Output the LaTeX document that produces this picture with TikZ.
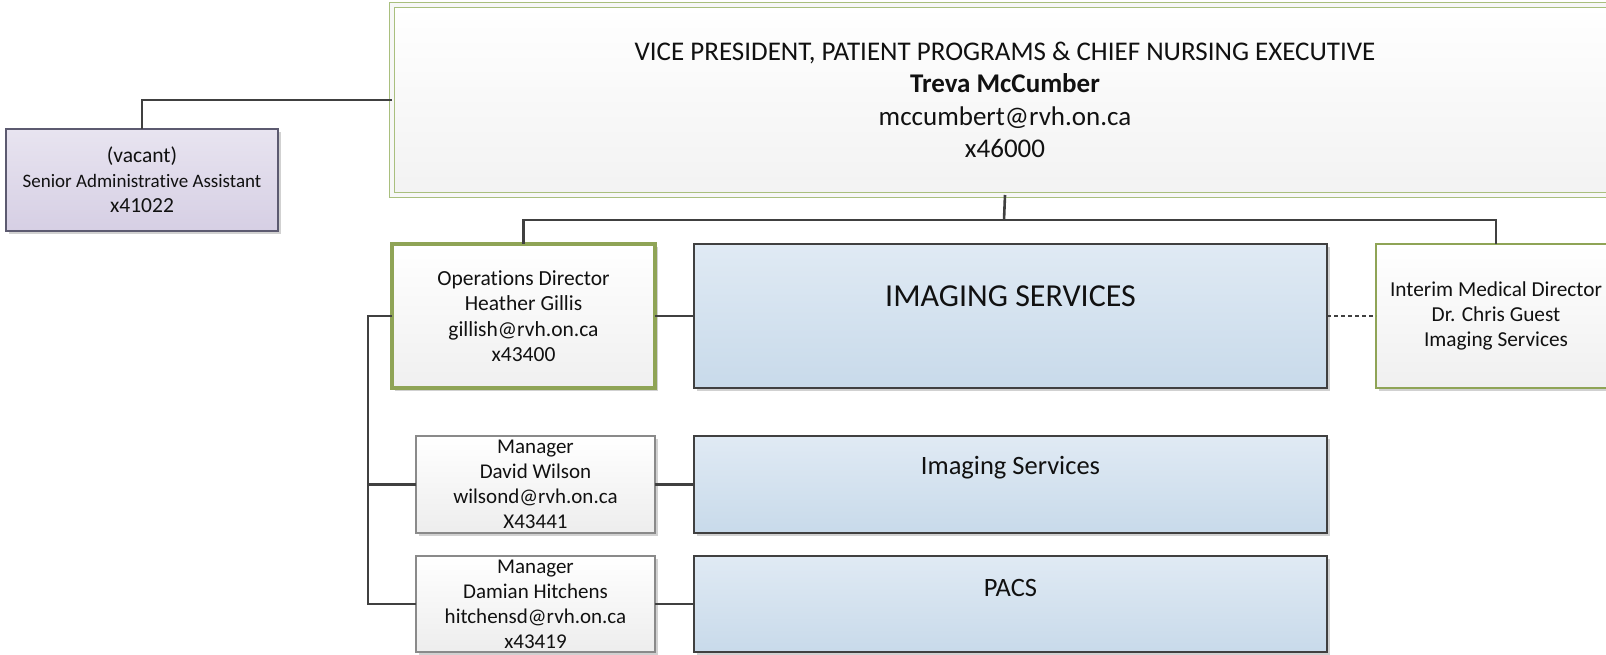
\documentclass[tikz,border=0pt]{standalone}
\usepackage{fontspec}
\setmainfont[RawFeature={-liga;-clig;-dlig;-calt}]{Carlito}
\usetikzlibrary{shadows}
\definecolor{conn}{HTML}{404040}
\definecolor{oliveg}{HTML}{8FA456}
\definecolor{olivel}{HTML}{A9BF7E}
\definecolor{blueT}{HTML}{E0EAF4}
\definecolor{blueB}{HTML}{C8DAEA}
\definecolor{lavT}{HTML}{E8E4F0}
\definecolor{lavB}{HTML}{D6CFE4}
\definecolor{lavD}{HTML}{5C5A70}
\definecolor{grayD}{HTML}{8A8A8A}
\definecolor{txt}{HTML}{111111}
\tikzset{
  box/.style={rectangle, inner sep=0pt, outer sep=0pt, align=center, anchor=north west, text=txt,
    drop shadow={shadow xshift=3pt, shadow yshift=-3pt, opacity=0.18, fill=black}},
  vpbox/.style={box, top color=white, bottom color=gray!10, draw=olivel, line width=1.2pt,
    double=gray!6, double distance=3.5pt},
  greenbox/.style={box, top color=white, bottom color=gray!12, draw=oliveg},
  bluebox/.style={box, top color=blueT, bottom color=blueB, draw=conn, line width=2.5pt},
  mgrbox/.style={box, top color=white, bottom color=gray!14, draw=grayD, line width=1.2pt},
  vacbox/.style={box, top color=lavT, bottom color=lavB, draw=lavD, line width=1.2pt},
  conline/.style={draw=conn, line width=2.6pt},
  dashline/.style={draw=conn, line width=2.2pt, dash pattern=on 4pt off 3pt},
}
\begin{document}
\begin{tikzpicture}[x=1pt, y=-1pt]
\useasboundingbox (0,0) rectangle (1606,655);
\clip (0,0) rectangle (1606,655);
\fill[white] (0,0) rectangle (1606,655);

\node[vacbox, minimum width=272pt, minimum height=102pt, font=\fontsize{19}{25}\selectfont] (vac) at (6,129)
  {{\fontsize{21.5}{25}\selectfont (vacant)}\\ Senior Administrative Assistant\\ {\fontsize{21.5}{25}\selectfont x41022}};

\node[vpbox, minimum width=1226pt, minimum height=190pt, font=\fontsize{27}{32.5}\selectfont] (vp) at (392,5)
  {VICE PRESIDENT, PATIENT PROGRAMS \& CHIEF NURSING EXECUTIVE\\
   \textbf{Treva McCumber}\\
   mccumbert@rvh.on.ca\\
   x46000};

\node[greenbox, line width=3.2pt, minimum width=263pt, minimum height=144pt, font=\fontsize{21.5}{25.5}\selectfont] (ops) at (392,244)
  {Operations Director\\ Heather Gillis\\ gillish@rvh.on.ca\\ x43400};

\node[bluebox, minimum width=633pt, minimum height=144pt,
  label={[anchor=center, yshift=-52pt, font=\fontsize{32}{38}\selectfont, text=txt]north:IMAGING SERVICES}] (big) at (694,244) {};

\node[greenbox, line width=2.2pt, minimum width=240pt, minimum height=144pt, font=\fontsize{21.3}{25}\selectfont] (int) at (1376,244)
  {Interim Medical Director\\ Dr. Chris Guest\\ Imaging Services};

\node[mgrbox, minimum width=239pt, minimum height=97pt, font=\fontsize{21}{25}\selectfont] (m1) at (416,436)
  {Manager\\ David Wilson\\ wilsond@rvh.on.ca\\ X43441};

\node[mgrbox, minimum width=239pt, minimum height=96pt, font=\fontsize{21}{25}\selectfont] (m2) at (416,556)
  {Manager\\ Damian Hitchens\\ hitchensd@rvh.on.ca\\ x43419};

\node[bluebox, minimum width=633pt, minimum height=97pt,
  label={[anchor=center, yshift=-32pt, font=\fontsize{26.5}{32}\selectfont, text=txt]north:Imaging Services}] (s1) at (694,436) {};

\node[bluebox, minimum width=633pt, minimum height=96pt,
  label={[anchor=center, yshift=-32pt, font=\fontsize{26.5}{32}\selectfont, text=txt]north:PACS}] (s2) at (694,556) {};

\coordinate (bus) at (1004,220);
\coordinate (spine) at (368,316);

\draw[conline] (vac.north) |- (vp.west);
\draw[conline] (vp.south) -- (bus);
\draw[conline] (ops.north) -- (ops.north |- bus) -| (int.north);
\draw[conline] (ops.east) -- (big.west);
\draw[dashline] (big.east) -- (int.west);
\draw[conline] (ops.west) -- (ops.west -| spine) |- (m2.west);
\draw[conline] (m1.west) -- (m1.west -| spine);
\draw[conline] (m1.east) -- (s1.west);
\draw[conline] (m2.east) -- (s2.west);
\end{tikzpicture}
\end{document}
